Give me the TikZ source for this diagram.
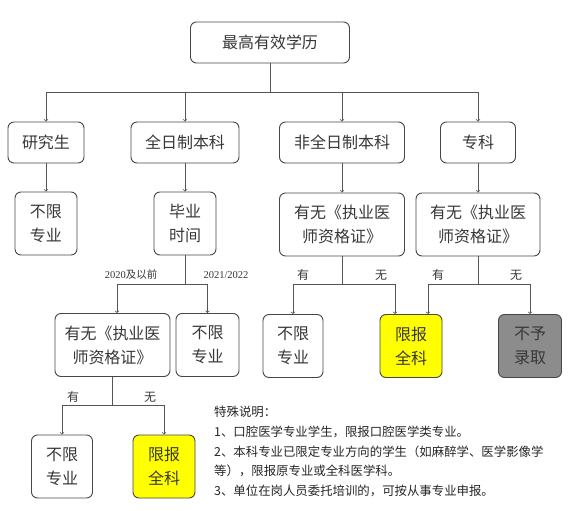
\documentclass[tikz,border=0pt]{standalone}
\usepackage{fontspec}
\setmainfont{Liberation Serif}
\newfontfamily\cjk{Noto Sans CJK SC}
\definecolor{boxline}{RGB}{70,70,70}
\definecolor{linkline}{RGB}{85,85,85}
\definecolor{txt}{RGB}{55,55,55}
\definecolor{quanke}{RGB}{255,255,0}
\definecolor{jujue}{RGB}{140,140,140}
\begin{document}
\begin{tikzpicture}[x=1pt,y=-1pt,
  main node/.style={draw=boxline,rounded corners=6pt,line width=0.9pt,align=center,inner sep=0pt,text=txt,font=\cjk\fontsize{16}{24}\selectfont},
  row node/.style={main node,minimum height=41pt},
  cell node/.style={main node,minimum height=63pt},
  link/.style={draw=linkline,line width=0.7pt},
  small label/.style={text=txt,inner sep=0pt,font=\cjk\fontsize{12}{12}\selectfont},
  year label/.style={text=txt,inner sep=0pt,font=\fontsize{10.5}{10.5}\selectfont}]
  \useasboundingbox (0,0) rectangle (574,511);

  \node[row node,minimum width=159pt] at (270,42.5) (top) {最高有效学历};
  \node[row node,minimum width=76pt] at (46,142.5) (yjs) {研究生};
  \node[row node,minimum width=108pt] at (185,142.5) (qrz) {全日制本科};
  \node[row node,minimum width=125pt] at (342,142.5) (fqrz) {非全日制本科};
  \node[row node,minimum width=75pt] at (478,142.5) (zk) {专科};

  \node[cell node,minimum width=62pt] at (46,223.5) (bx1) {不限\\专业};
  \node[cell node,minimum width=62pt] at (185,223.5) (bysj) {毕业\\时间};
  \node[cell node,minimum width=125pt] at (342,224.5) (zg1) {有无《执业医\\师资格证》};
  \node[cell node,minimum width=124pt] at (478,224.5) (zg2) {有无《执业医\\师资格证》};

  \node[cell node,minimum width=115pt] at (112.5,345) (zg3) {有无《执业医\\师资格证》};
  \node[cell node,minimum width=63pt] at (207.5,345) (bx2) {不限\\专业};
  \node[cell node,minimum width=60pt] at (293,346) (bx3) {不限\\专业};
  \node[cell node,minimum width=62pt,fill=quanke] at (411,346) (qk1) {限报\\全科};
  \node[cell node,minimum width=63pt,fill=jujue] at (530,346) (bylq) {不予\\录取};

  \node[cell node,minimum width=61pt] at (62,466.5) (bx4) {不限\\专业};
  \node[cell node,minimum width=62pt,fill=quanke] at (164,466.5) (qk2) {限报\\全科};

  % first split
  \coordinate (j1) at (270,92);
  \path[link] (top) -- (j1);
  \path[link,->] (j1) -| (yjs);
  \path[link,->] (j1) -| (qrz);
  \path[link,->] (j1) -| (fqrz);
  \path[link,->] (j1) -| (zk);

  \path[link,->] (yjs) edge (bx1) (qrz) edge (bysj) (fqrz) edge (zg1) (zk) edge (zg2);

  % graduation year
  \coordinate (j2) at (185,284);
  \path[link] (bysj) -- (j2);
  \path[link,->] (j2) -| ([xshift=4.5pt]zg3.north);
  \path[link,->] (j2) -| (bx2);
  \node[year label] at (131,275) (y1) {2020{\cjk 及以前}};
  \node[year label] at (226,275) (y2) {2021/2022};

  % certificate
  \coordinate (j3) at (342,284);
  \path[link] (zg1) -- (j3);
  \path[link,->] (j3) -| (bx3);
  \path[link,->] (j3) -| ([xshift=-16pt]qk1.north);
  \node[small label] at (303,275) (you1) {有};
  \node[small label] at (381,275) (wu1) {无};

  \coordinate (j4) at (478,284);
  \path[link] (zg2) -- (j4);
  \path[link,->] (j4) -| ([xshift=17pt]qk1.north);
  \path[link,->] (j4) -| (bylq);
  \node[small label] at (438,275) (you2) {有};
  \node[small label] at (516,275) (wu2) {无};

  \coordinate (j5) at (112.5,405);
  \path[link] (zg3) -- (j5);
  \path[link,->] (j5) -| (bx4);
  \path[link,->] (j5) -| (qk2);
  \node[small label] at (73,397) (you3) {有};
  \node[small label] at (150,397) (wu3) {无};

  \node[anchor=north west,align=left,inner sep=0pt,text=black!85,font=\cjk\fontsize{12.4}{19.7}\selectfont] at (214,406) (note) {特殊说明：\\1、口腔医学专业学生，限报口腔医学类专业。\\2、本科专业已限定专业方向的学生（如麻醉学、医学影像学\\等），限报原专业或全科医学科。\\3、单位在岗人员委托培训的，可按从事专业申报。};
\end{tikzpicture}
\end{document}
